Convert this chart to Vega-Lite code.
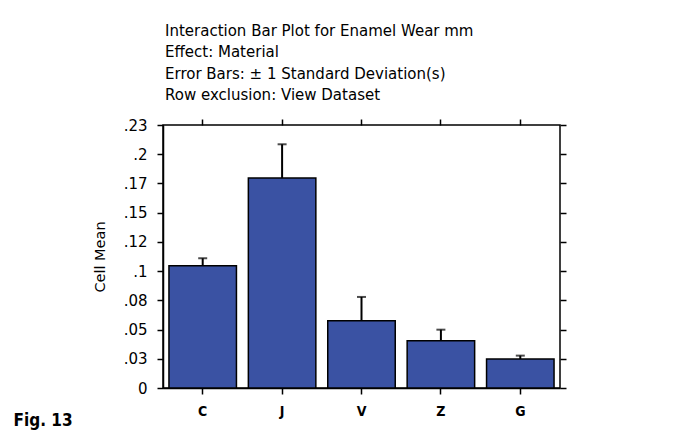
{
  "$schema": "https://vega.github.io/schema/vega-lite/v6.json",
  "width": 397,
  "height": 263,
  "autosize": {"type": "none"},
  "padding": {"left": 163, "top": 125, "right": 115, "bottom": 42},
  "background": "white",
  "title": {
    "text": ["Interaction Bar Plot for Enamel Wear mm", "\u2002Effect: Material", "\u2002Error Bars: ± 1 Standard Deviation(s)", "\u2002Row exclusion: View Dataset"],
    "anchor": "start",
    "frame": "group",
    "font": "DejaVu Sans",
    "fontSize": 15,
    "fontWeight": "normal",
    "lineHeight": 21.5,
    "offset": 15,
    "dx": 2,
    "color": "black"
  },
  "data": {
    "values": [
      {"material": "C", "mean": 0.1046, "upper": 0.111},
      {"material": "J", "mean": 0.1797, "upper": 0.2085},
      {"material": "V", "mean": 0.0576, "upper": 0.0779},
      {"material": "Z", "mean": 0.0405, "upper": 0.0499},
      {"material": "G", "mean": 0.0248, "upper": 0.0277}
    ]
  },
  "config": {
    "view": {"stroke": "black", "strokeWidth": 1.5},
    "axis": {"domainColor": "black", "domainWidth": 1.5, "tickColor": "black", "tickWidth": 1.5, "tickSize": 6, "labelColor": "black", "titleColor": "black", "grid": false}
  },
  "layer": [
    {
      "mark": {"type": "bar", "color": "#3A52A3", "stroke": "black", "strokeWidth": 1.5},
      "encoding": {
        "x": {
          "field": "material", "type": "nominal", "sort": null,
          "scale": {"paddingInner": 0.15, "paddingOuter": 0.075},
          "axis": {
            "orient": "bottom", "labelAngle": 0, "labelFont": "DejaVu Sans Condensed", "labelFontWeight": "bold", "labelFontSize": 14, "labelPadding": 10,
            "title": "Fig. 13", "titleFont": "DejaVu Sans Condensed", "titleFontWeight": "bold", "titleFontSize": 17,
            "titleX": -150, "titleY": 32, "titleAlign": "left", "titleBaseline": "middle", "titleAnchor": null
          }
        },
        "y": {
          "field": "mean", "type": "quantitative",
          "scale": {"domain": [0, 0.225], "nice": false},
          "axis": {
            "orient": "left",
            "values": [0, 0.025, 0.05, 0.075, 0.1, 0.125, 0.15, 0.175, 0.2, 0.225],
            "labelExpr": "['0','.03','.05','.08','.1','.12','.15','.17','.2','.23'][round(datum.value*40)]",
            "labelFont": "DejaVu Sans", "labelFontSize": 15, "labelPadding": 10,
            "title": "Cell Mean", "titleFont": "DejaVu Sans", "titleFontSize": 14.5, "titleFontWeight": "normal", "titlePadding": 16
          }
        }
      }
    },
    {
      "mark": {"type": "rule", "color": "black", "strokeWidth": 2},
      "encoding": {
        "x": {"field": "material", "type": "nominal", "sort": null, "axis": {"orient": "top", "labels": false, "title": null, "domain": false}},
        "y": {"field": "mean", "type": "quantitative", "axis": {"orient": "right", "values": [0, 0.025, 0.05, 0.075, 0.1, 0.125, 0.15, 0.175, 0.2, 0.225], "labels": false, "title": null, "domain": false}},
        "y2": {"field": "upper"}
      }
    },
    {
      "mark": {"type": "tick", "color": "black", "thickness": 2, "size": 9},
      "encoding": {
        "x": {"field": "material", "type": "nominal", "sort": null, "axis": null},
        "y": {"field": "upper", "type": "quantitative", "axis": null}
      }
    }
  ],
  "resolve": {"axis": {"x": "independent", "y": "independent"}}
}
